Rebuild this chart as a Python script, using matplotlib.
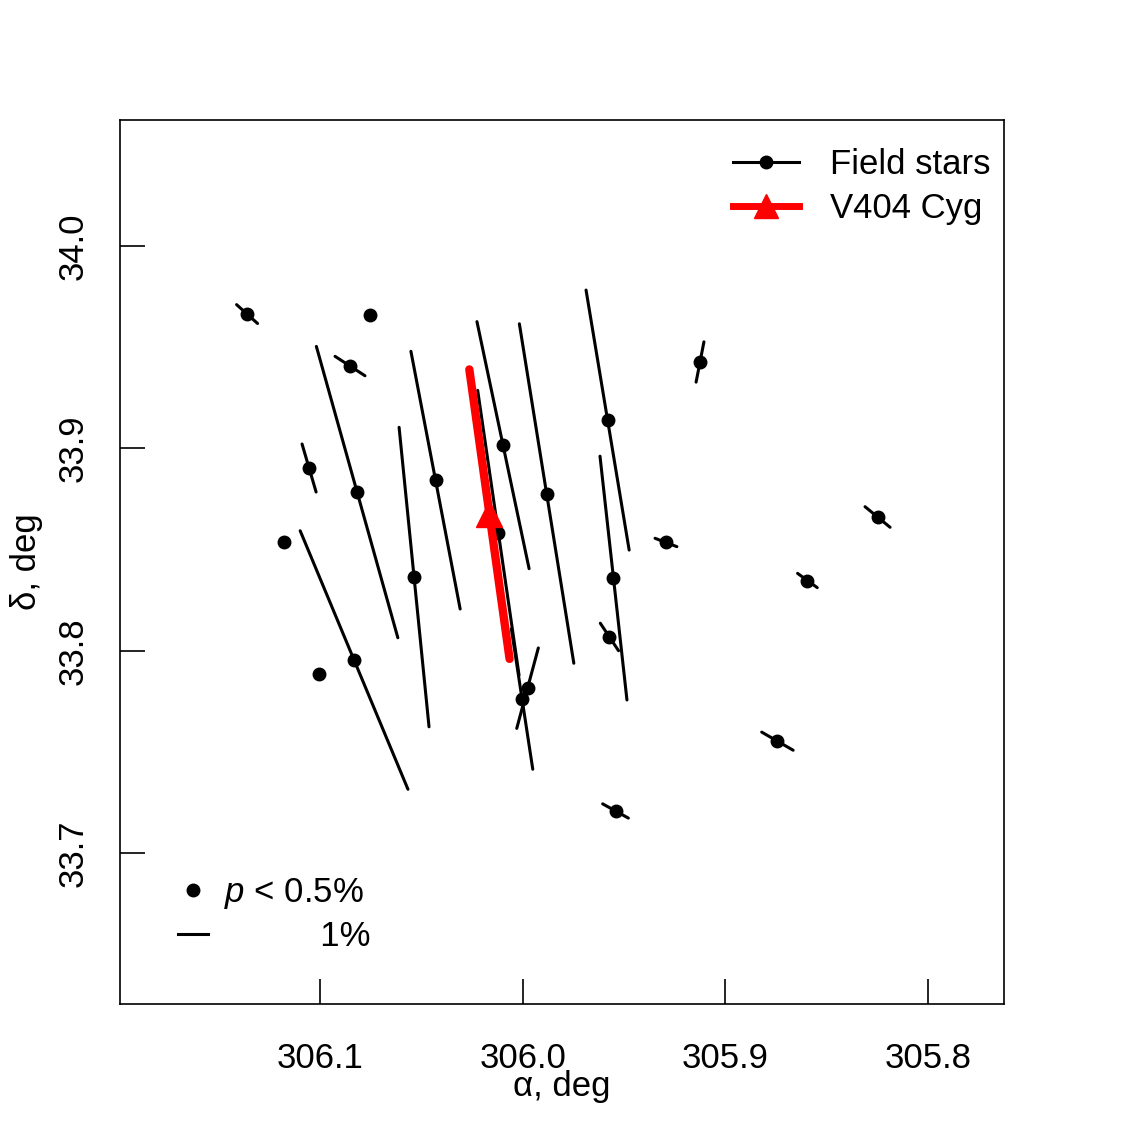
import numpy as np
import matplotlib
matplotlib.use("Agg")
import matplotlib.pyplot as plt
from matplotlib.lines import Line2D

plt.rcParams["font.family"] = ["Liberation Sans", "DejaVu Sans"]
plt.rcParams["mathtext.fontset"] = "custom"
plt.rcParams["mathtext.it"] = "Liberation Sans:italic"
plt.rcParams["mathtext.rm"] = "Liberation Sans"

# =========================
# DATA
# =========================
# field stars: RA, Dec (deg), polarization degree p (%), position angle (deg, N through E)
star_ra = [306.1360, 306.0753, 306.0852, 306.0817, 306.1054, 306.0536, 306.0430,
           306.1178, 306.1007, 306.0832, 306.0097, 305.9882, 306.0120, 306.0003,
           305.9976, 305.9581, 305.9552, 305.9572, 305.9542, 305.9125, 305.9293,
           305.8249, 305.8595, 305.8743]
star_dec = [33.9664, 33.9659, 33.9407, 33.8784, 33.8903, 33.8364, 33.8843,
            33.8537, 33.7885, 33.7954, 33.9016, 33.8777, 33.8583, 33.7761,
            33.7815, 33.9140, 33.8359, 33.8068, 33.7208, 33.9427, 33.8535,
            33.8661, 33.8347, 33.7553]
star_p = [0.94, 0.0, 1.19, 10.1, 1.67, 10.05, 8.76,
          0.0, 0.0, 9.35, 8.43, 11.48, 9.61, 4.74,
          2.78, 8.8, 8.19, 1.1, 0.98, 1.37, 0.78,
          1.08, 0.81, 1.21]
star_pa = [48, 0, 57, 15.6, 16.3, 5.7, 10.8,
           0, 0, 22.6, 11.9, 9.1, 8.25, 8.65,
           165, 9.4, 6.3, 33.5, 61, 169, 69,
           50.5, 54, 60]

# V404 Cyg
v404_ra = 306.0164
v404_dec = 33.8675
v404_p = 9.76
v404_pa = 7.9

SCALE = 0.0148  # deg of segment length per 1 % polarization

xticks = [306.1, 306.0, 305.9, 305.8]
yticks = [33.7, 33.8, 33.9, 34.0]


def seg(ra, dec, p, pa):
    h = p * SCALE / 2.0
    a = np.deg2rad(pa)
    return [ra - h * np.sin(a), ra + h * np.sin(a)], [dec - h * np.cos(a), dec + h * np.cos(a)]


# =========================
# PLOT
# =========================
fig = plt.figure(figsize=(11.25, 11.25), dpi=100)
ax = fig.add_axes([120 / 1125, 1 - 1004 / 1125, 884 / 1125, 884 / 1125])

for ra, dec, p, pa in zip(star_ra, star_dec, star_p, star_pa):
    if p > 0:
        xs, ys = seg(ra, dec, p, pa)
        ax.plot(xs, ys, color="black", lw=2.2, solid_capstyle="round")
ax.plot(star_ra, star_dec, "o", color="black", ms=9, ls="none")

xs, ys = seg(v404_ra, v404_dec, v404_p, v404_pa)
ax.plot(xs, ys, color="red", lw=6, solid_capstyle="round")
ax.plot([v404_ra], [v404_dec], "^", color="red", ms=19)

ax.set_xlim(306.1987, 305.7625)
ax.set_ylim(33.6254, 34.0623)
ax.set_xticks(xticks)
ax.set_xticklabels([f"{t:.1f}" for t in xticks])
ax.set_yticks(yticks)
ax.set_yticklabels([f"{t:.1f}" for t in yticks], rotation=90, va="center")
ax.tick_params(direction="in", length=18, width=1.2, labelsize=25, pad=27)
ax.tick_params(axis="y", pad=22)
for s in ax.spines.values():
    s.set_linewidth(1.2)

ax.set_xlabel("α, deg", fontsize=25, labelpad=-3)
ax.set_ylabel("δ, deg", fontsize=25, labelpad=10)

# top-right legend
h1 = Line2D([], [], color="black", lw=2.2, marker="o", ms=9)
h2 = Line2D([], [], color="red", lw=5, marker="^", ms=17)
leg1 = ax.legend([h1, h2], ["Field stars", "V404 Cyg"], loc="upper right",
                 bbox_to_anchor=(0.985, 0.968), frameon=False, fontsize=25,
                 handlelength=1.9, handletextpad=0.9, labelspacing=0.3,
                 borderpad=0, borderaxespad=0)
ax.add_artist(leg1)

# bottom-left legend: dot = p < 0.5 %, bar = 1 %
h3 = Line2D([], [], color="black", marker="o", ms=9, ls="none")
h4 = Line2D([], [], color="black", lw=2.2)
ax.legend([h3, h4], ["$p$ < 0.5%", "          1%"], loc="lower left",
          bbox_to_anchor=(0.066, 0.058), frameon=False, fontsize=25,
          handlelength=0.86, handletextpad=0.45, labelspacing=0.25,
          borderpad=0, borderaxespad=0)

fig.savefig("out.png", dpi=100)
